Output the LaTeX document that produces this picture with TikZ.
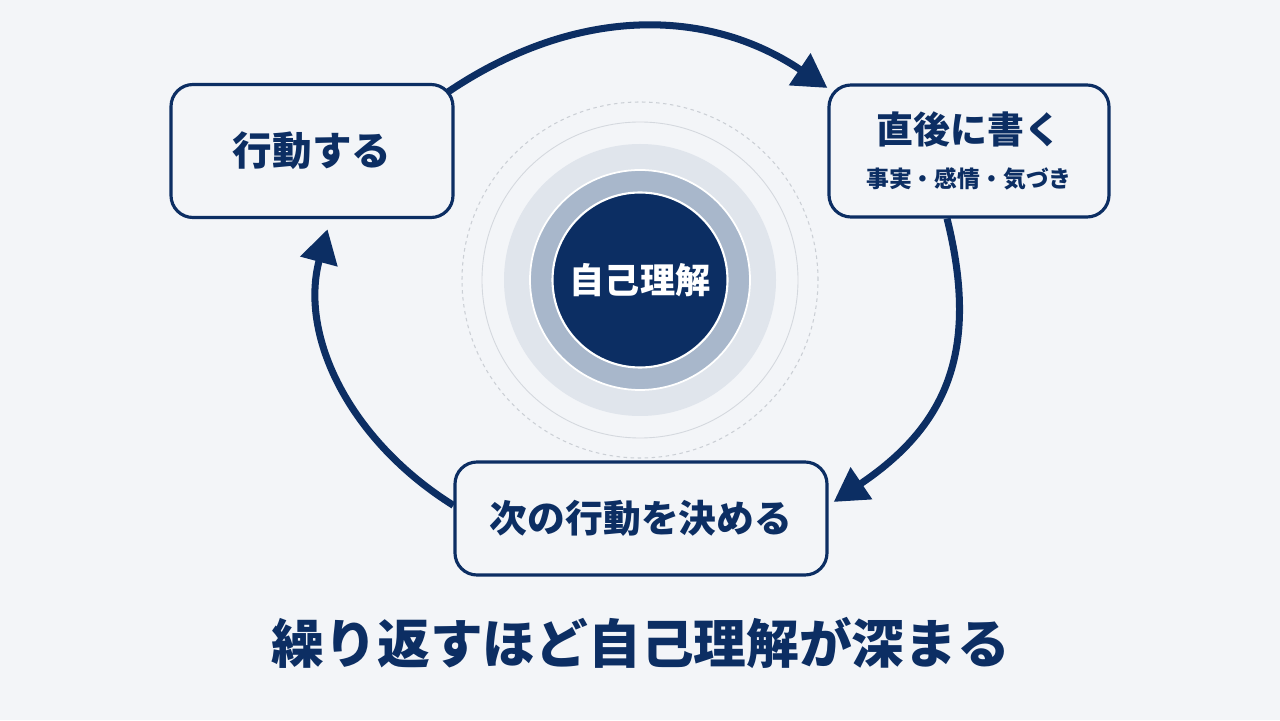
\documentclass[tikz,border=0pt]{standalone}
\usepackage{fontspec}
\setmainfont{Noto Sans CJK JP}
\usetikzlibrary{arrows.meta,backgrounds}
\definecolor{navy}{HTML}{0C2E63}
\definecolor{bgcol}{HTML}{F3F5F8}
\definecolor{ringmid}{HTML}{A8B7CB}
\definecolor{ringlight}{HTML}{E0E5EC}
\definecolor{ringgray}{HTML}{D4D8DE}
\begin{document}
\begin{tikzpicture}[
    every node/.style={text=navy},
    stepbox/.style={draw=navy, line width=1.8pt, rounded corners=0.44cm,
                    fill=bgcol, align=center, inner sep=0pt},
    flow/.style={draw=navy, line width=4pt,
                 -{Triangle[length=0.67cm, width=0.74cm]}},
    boxfont/.style={font=\bfseries\fontsize{#1}{#1}\selectfont}
]
\useasboundingbox (0,0) rectangle (25.6,14.4);

% Canvas
\begin{scope}[on background layer]
\fill[bgcol] (0,0) rectangle (25.6,14.4);
\end{scope}

% Centre: rings round the core
\draw[ringgray!90!gray, line width=0.6pt, dash pattern=on 2pt off 2pt] (12.8,8.8) circle (3.56);
\draw[ringgray, line width=0.5pt] (12.8,8.8) circle (3.16);
\fill[ringlight] (12.8,8.8) circle (2.72);
\draw[fill=ringmid, draw=white, line width=1pt] (12.8,8.8) circle (2.2);
\node[circle, fill=navy, draw=white, line width=1.2pt, minimum size=3.5cm,
      text=white, boxfont=20pt] (core) at (12.8,8.8) {自己理解};

% Step 1
\node[stepbox, minimum width=5.64cm, minimum height=2.66cm, boxfont=22.5pt]
    (act) at (6.24,11.38) {行動する};

% Step 2
\node[stepbox, minimum width=5.6cm, minimum height=2.64cm,
      font=\bfseries\fontsize{13pt}{16pt}\selectfont]
    (note) at (19.38,11.38)
    {{\fontsize{21pt}{16pt}\selectfont 直後に書く}\\[8.8pt]事実・感情・気づき};

% Step 3
\node[stepbox, minimum width=7.44cm, minimum height=2.26cm, boxfont=21.5pt]
    (next) at (12.82,4.03) {次の行動を決める};

% Cycle
\begin{scope}[on background layer]
\draw[flow, shorten <=-4.5pt] (act.24) to[out=34, in=146] (note.156);
\draw[flow, shorten >=3.5pt] (note.-108) to[out=-76, in=34, looseness=1.15] (next.4);
\draw[flow, shorten >=6pt] (next.176.6) to[out=148, in=-105] (act.-75);
\end{scope}

% Caption
\node[boxfont=30pt] (caption) at (12.82,1.54) {繰り返すほど自己理解が深まる};

\end{tikzpicture}
\end{document}
